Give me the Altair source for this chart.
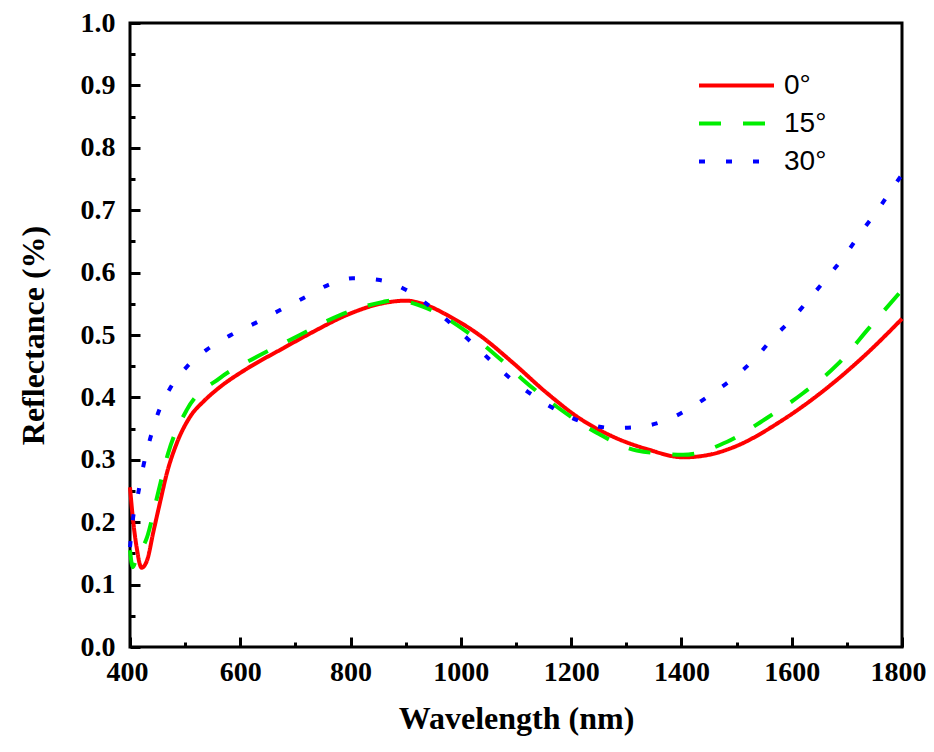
import altair as alt
import pandas as pd

# 0 degree
wl_0 = [400, 405, 412, 421, 431, 442, 454, 467, 485, 509, 535, 558, 612, 672, 732, 793, 859, 900,
        940, 975, 1035, 1095, 1156, 1216, 1276, 1338, 1403, 1450, 1494, 1584, 1675, 1737, 1800]
r_0 = [0.256, 0.208, 0.160, 0.127, 0.139, 0.183, 0.230, 0.279, 0.327, 0.369, 0.395, 0.413, 0.446,
       0.476, 0.505, 0.532, 0.551, 0.555, 0.547, 0.532, 0.499, 0.455, 0.407, 0.366, 0.337, 0.317,
       0.304, 0.308, 0.320, 0.364, 0.423, 0.471, 0.526]

# 15 degree
wl_15 = [400, 405, 412, 431, 449, 469, 503, 563, 630, 708, 781, 859, 880, 938, 1011, 1077, 1113,
         1174, 1247, 1319, 1403, 1483, 1555, 1621, 1682, 1742, 1800]
r_15 = [0.155, 0.128, 0.144, 0.176, 0.240, 0.310, 0.380, 0.431, 0.465, 0.500, 0.532, 0.553, 0.556,
        0.543, 0.505, 0.457, 0.428, 0.385, 0.343, 0.315, 0.308, 0.329, 0.367, 0.407, 0.452, 0.513,
        0.572]

# 30 degree
wl_30 = [400, 405, 415, 424, 436, 451, 473, 503, 540, 581, 627, 668, 714, 759, 804, 853, 901, 941,
         981, 1017, 1053, 1093, 1138, 1183, 1225, 1276, 1325, 1374, 1416, 1457, 1497, 1534, 1566,
         1602, 1635, 1666, 1697, 1726, 1755, 1784, 1800]
r_30 = [0.160, 0.203, 0.247, 0.289, 0.332, 0.375, 0.415, 0.449, 0.477, 0.499, 0.519, 0.538, 0.559,
        0.580, 0.591, 0.588, 0.572, 0.548, 0.519, 0.490, 0.460, 0.428, 0.399, 0.375, 0.359, 0.351,
        0.353, 0.364, 0.383, 0.407, 0.433, 0.463, 0.495, 0.527, 0.561, 0.594, 0.628, 0.665, 0.699,
        0.737, 0.757]

series = ["0°", "15°", "30°"]
colors = ["#ff0000", "#00ee00", "#0000ff"]
dashes = [[1, 0], [22, 22], [6, 21]]

x_major = [400, 600, 800, 1000, 1200, 1400, 1600, 1800]
x_minor = [500, 700, 900, 1100, 1300, 1500, 1700]
y_major = [0.0, 0.1, 0.2, 0.3, 0.4, 0.5, 0.6, 0.7, 0.8, 0.9, 1.0]
y_minor = [0.05, 0.15, 0.25, 0.35, 0.45, 0.55, 0.65, 0.75, 0.85, 0.95]

rows = []
for name, wls, rs in zip(series, [wl_0, wl_15, wl_30], [r_0, r_15, r_30]):
    for i, (w, r) in enumerate(zip(wls, rs)):
        rows.append({"wl": w, "r": r, "s": name, "o": i})
df = pd.DataFrame(rows)

serif = "Liberation Serif"
xscale = alt.Scale(domain=[400, 1800], nice=False, zero=False)
yscale = alt.Scale(domain=[0, 1], nice=False, zero=False)

base = alt.Chart(df)

# legend line drawn by a custom path: 75 px long, starting at the symbol's left edge
leg = dict(orient="none", legendX=567, legendY=48,
           symbolType="M-1,0H5", symbolSize=625, symbolStrokeWidth=4,
           labelFont="Liberation Sans", labelFontSize=28, labelColor="black",
           labelOffset=58, rowPadding=9, padding=0)

lines = base.mark_line(strokeWidth=4, interpolate="monotone").encode(
    x=alt.X("wl:Q", scale=xscale, axis=alt.Axis(
        values=x_major, format="d", orient="bottom", domain=False, grid=False,
        tickSize=10, offset=-10, tickWidth=3, tickColor="black",
        labelFont=serif, labelFontWeight="bold", labelFontSize=28, labelColor="black",
        labelPadding=11, labelFlush=True, labelFlushOffset=24, labelOverlap=False,
        title="Wavelength (nm)", titleFont=serif, titleFontWeight="bold",
        titleFontSize=32, titleColor="black", titlePadding=17)),
    y=alt.Y("r:Q", scale=yscale, axis=alt.Axis(
        values=y_major, format=".1f", orient="left", domain=False, grid=False,
        tickSize=10, offset=-10, tickWidth=3, tickColor="black",
        labelFont=serif, labelFontWeight="bold", labelFontSize=28, labelColor="black",
        labelPadding=15, labelFlush=False, labelOverlap=False,
        title="Reflectance (%)", titleFont=serif, titleFontWeight="bold",
        titleFontSize=32, titleColor="black", titlePadding=30)),
    color=alt.Color("s:N", scale=alt.Scale(domain=series, range=colors), title=None,
                    legend=alt.Legend(**leg)),
    strokeDash=alt.StrokeDash("s:N", scale=alt.Scale(domain=series, range=dashes), title=None,
                              legend=alt.Legend(**leg)),
    order="o:Q",
)

minor = base.mark_point(opacity=0).encode(
    x=alt.X("wl:Q", scale=xscale, axis=alt.Axis(
        values=x_minor, orient="bottom", domain=False, grid=False, labels=False,
        tickSize=5, offset=-5, tickWidth=3, tickColor="black", title=None)),
    y=alt.Y("r:Q", scale=yscale, axis=alt.Axis(
        values=y_minor, orient="left", domain=False, grid=False, labels=False,
        tickSize=5, offset=-5, tickWidth=3, tickColor="black", title=None)),
)

chart = alt.layer(lines, minor).resolve_axis(x="independent", y="independent").properties(
    width=772, height=624, autosize="none", background="white",
    padding={"left": 122, "top": 15, "right": 24, "bottom": 90},
).configure_view(stroke="black", strokeWidth=3)

chart.save("out.html", embed_options={"renderer": "svg", "actions": False})
